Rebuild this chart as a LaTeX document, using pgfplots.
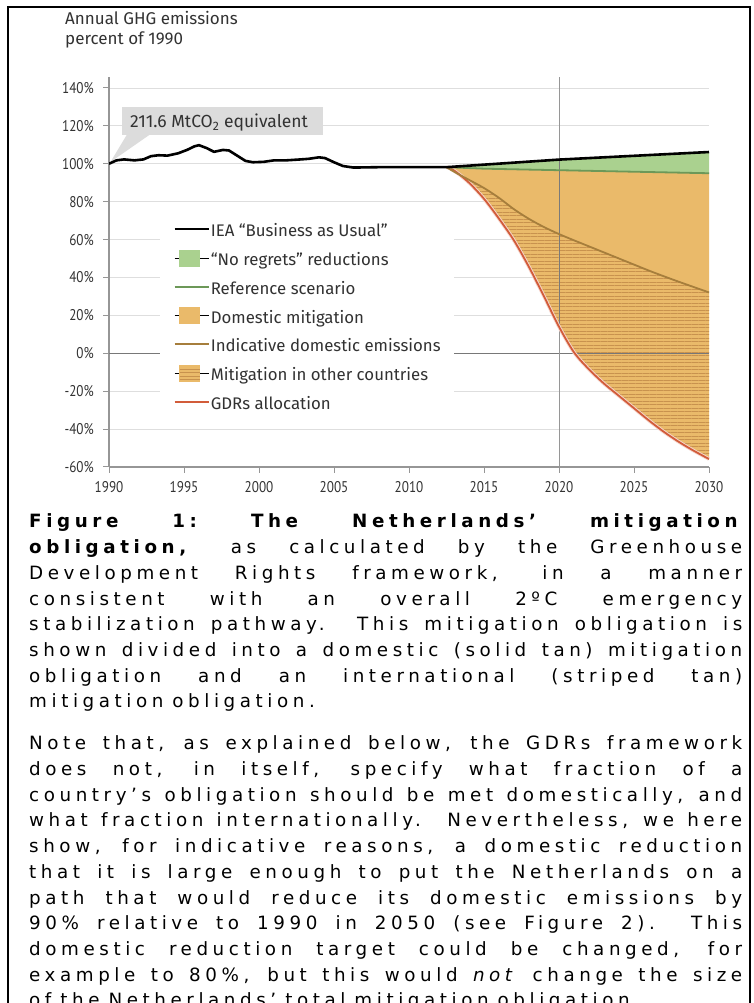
\documentclass[border=0pt]{standalone}
\usepackage{fontspec}
\usepackage{pgfplots}
\pgfplotsset{compat=1.18}
\usepgfplotslibrary{fillbetween}
\usetikzlibrary{patterns.meta}
\newfontfamily\tickfont{PT Sans}[FakeStretch=0.85]
\newfontfamily\chartfont{Fira Sans}
\newfontfamily\capfont{DejaVu Sans}[LetterSpace=25]
\definecolor{axgray}{RGB}{150,150,150}
\definecolor{gridgray}{RGB}{222,222,222}
\definecolor{zerogray}{RGB}{120,120,120}
\definecolor{nrgreen}{RGB}{170,209,143}
\definecolor{refgreen}{RGB}{108,152,88}
\definecolor{tanfill}{RGB}{234,186,106}
\definecolor{stripe}{RGB}{200,146,78}
\definecolor{indbrown}{RGB}{166,126,60}
\definecolor{gdrred}{RGB}{210,92,58}
\definecolor{callout}{RGB}{220,220,220}
\definecolor{labcol}{RGB}{50,50,50}
\newcommand{\capsp}{\spaceskip=5.5pt plus 40pt\relax\xspaceskip=5.5pt plus 40pt\relax}
\newcommand{\JL}[1]{\makebox[713pt][s]{\capsp #1}\\}
\newcommand{\RL}[1]{\makebox[713pt][l]{#1}}
\newcommand{\W}{\hspace*{9pt}}
\begin{document}
\begin{tikzpicture}[x=1pt,y=1pt]
\path (0,0) rectangle (754,1003);
\begin{scope}
\clip (0,0) rectangle (754,1003);
\draw[line width=2pt] (8,-5) -- (8,996) -- (750,996) -- (750,-5);
\node[anchor=base west, inner sep=0pt, text width=713pt, align=left,
      font=\capfont\fontsize{18.3}{25.7}\selectfont] at (29,475) {%
\JL{\textbf{Figure 1: The Netherlands’ mitigation}}
\JL{\textbf{obligation,} as calculated by the Greenhouse}
\JL{Development Rights framework, in a manner}
\JL{consistent with an overall 2ºC emergency}
\JL{stabilization pathway.\ \ This mitigation obligation is}
\JL{shown divided into a domestic (solid tan) mitigation}
\JL{obligation and an international (striped tan)}
\RL{mitigation\W obligation.}\\[16.3pt]
\JL{Note that, as explained below, the GDRs framework}
\JL{does not, in itself, specify what fraction of a}
\JL{country’s obligation should be met domestically, and}
\JL{what fraction internationally.\ \ Nevertheless, we here}
\JL{show, for indicative reasons, a domestic reduction}
\JL{that it is large enough to put the Netherlands on a}
\JL{path that would reduce its domestic emissions by}
\JL{90\% relative to 1990 in 2050 (see Figure 2).\ \ This}
\JL{domestic reduction target could be changed, for}
\JL{example to 80\%, but this would \textit{not} change the size}
\RL{of\W the\W Netherlands’\W total\W mitigation\W obligation.}};
\end{scope}
% y axis title
\node[anchor=base west, inner sep=0pt, align=left, text=labcol,
      font=\chartfont\fontsize{17}{20}\selectfont] at (65,958)
      {Annual GHG emissions\\percent of 1990};
% callout
\fill[callout] (122,868) rectangle (323,896);
\fill[callout] (127,868.5) -- (150,868.5) -- (110.5,841) -- cycle;
\node[anchor=base west, inner sep=0pt, text=labcol,
      font=\chartfont\fontsize{17.5}{18}\selectfont] at (130,875)
      {211.6 MtCO\textsubscript{2} equivalent};
\begin{axis}[
  at={(109pt,536pt)}, anchor=south west,
  scale only axis, width=600pt, height=390.4pt,
  xmin=1990, xmax=2030, ymin=-60, ymax=146,
  axis x line*=bottom, axis y line*=left,
  axis line style={draw=axgray, line width=1.6pt, -},
  xtick={1990,1995,...,2030},
  xticklabels={1990,1995,2000,2005,2010,2015,2020,2025,2030},
  ytick={-60,-40,...,140},
  yticklabels={-60\%,-40\%,-20\%,0\%,20\%,40\%,60\%,80\%,100\%,120\%,140\%},
  tick align=outside, major tick length=6pt,
  tick style={draw=axgray, line width=1pt},
  ymajorgrids, grid style={draw=gridgray, line width=0.9pt},
  ticklabel style={text=labcol, font=\tickfont\fontsize{15.5}{16}\selectfont},
  yticklabel style={anchor=east, inner sep=0pt, xshift=-9pt},
  xticklabel style={anchor=north, inner sep=0pt, yshift=-8pt},
  legend style={at={(0.085,0.653)}, anchor=north west,
    fill=white, draw=none, inner xsep=13pt, inner ysep=9pt,
    font=\chartfont\fontsize{16.8}{18}\selectfont, text=labcol,
    row sep=12.7pt, column sep=1pt,
    nodes={inner sep=0pt, text height=15.5pt, text depth=0.3pt}},
  legend cell align=left,
]
% reference lines
\addplot[forget plot, draw=zerogray, line width=1.3pt] coordinates {(1990,0) (2030,0)};
\addplot[forget plot, draw=axgray, line width=0.8pt] coordinates {(2020,-60) (2020,146)};
% data paths
\addplot[forget plot, draw=none, name path=baufut] coordinates {
(2012.5,98.2) (2020,102.2) (2030,106.2)};
\addplot[forget plot, draw=none, name path=ref] coordinates {
(2012.5,98.2) (2015,97.4) (2020,96.6) (2025,95.8) (2030,95.0)};
\addplot[forget plot, draw=none, name path=ind, smooth] coordinates {
(2012.5,98.2) (2013,95.8) (2014,91.5) (2015,87.2) (2016,82.0) (2017,76.0)
(2018,70.9) (2019,66.6) (2020,62.9) (2021,59.6) (2022,56.4) (2023,53.2)
(2024,50.0) (2025,46.8) (2026,43.6) (2027,40.6) (2028,37.7) (2029,34.9) (2030,32.1)};
\addplot[forget plot, draw=none, name path=gdr, smooth] coordinates {
(2012.5,98.2) (2013,96.5) (2014,90.0) (2015,81.5) (2016,71.0) (2017,59.5)
(2018,45.5) (2019,30.0) (2020,14.0) (2021,0.5) (2022,-8.5) (2023,-16.0)
(2024,-22.5) (2025,-29.0) (2026,-35.5) (2027,-41.5) (2028,-46.8) (2029,-51.5) (2030,-55.8)};
% fills
\addplot[forget plot, fill=tanfill, draw=none] fill between[of=ref and gdr];
\addplot[forget plot, draw=none, pattern={Lines[angle=0,distance=3.5pt,line width=0.8pt]},
  pattern color=stripe] fill between[of=ind and gdr];
\addplot[forget plot, fill=nrgreen, draw=none] fill between[of=baufut and ref];
\addplot[forget plot, draw=black, opacity=0.18, line width=0.8pt] coordinates {(2020,14) (2020,102)};
% lines
\addplot[forget plot, draw=gdrred!25, line width=3.6pt, smooth] coordinates {
(2012.5,98.2) (2013,96.5) (2014,90.0) (2015,81.5) (2016,71.0) (2017,59.5)
(2018,45.5) (2019,30.0) (2020,14.0) (2021,0.5) (2022,-8.5) (2023,-16.0)
(2024,-22.5) (2025,-29.0) (2026,-35.5) (2027,-41.5) (2028,-46.8) (2029,-51.5) (2030,-55.8)};
\addplot[forget plot, draw=gdrred, line width=1.8pt, smooth] coordinates {
(2012.5,98.2) (2013,96.5) (2014,90.0) (2015,81.5) (2016,71.0) (2017,59.5)
(2018,45.5) (2019,30.0) (2020,14.0) (2021,0.5) (2022,-8.5) (2023,-16.0)
(2024,-22.5) (2025,-29.0) (2026,-35.5) (2027,-41.5) (2028,-46.8) (2029,-51.5) (2030,-55.8)};
\addplot[forget plot, draw=indbrown, line width=1.8pt, smooth] coordinates {
(2012.5,98.2) (2013,95.8) (2014,91.5) (2015,87.2) (2016,82.0) (2017,76.0)
(2018,70.9) (2019,66.6) (2020,62.9) (2021,59.6) (2022,56.4) (2023,53.2)
(2024,50.0) (2025,46.8) (2026,43.6) (2027,40.6) (2028,37.7) (2029,34.9) (2030,32.1)};
\addplot[forget plot, draw=refgreen, line width=1.8pt] coordinates {
(2012.5,98.2) (2015,97.4) (2020,96.6) (2025,95.8) (2030,95.0)};
\addplot[forget plot, draw=black, line width=2.6pt, line join=round] coordinates {
(1990,100) (1990.5,101.8) (1991,102.3) (1991.7,101.8) (1992.3,102.3) (1992.8,104)
(1993.3,104.5) (1993.9,104.3) (1994.6,105.5) (1995.2,107.3) (1995.7,109.2) (1996,109.8)
(1996.5,108.3) (1997,106.3) (1997.6,107.3) (1998,107) (1998.6,104) (1999.1,101.5)
(1999.6,100.8) (2000.3,101) (2001,101.8) (2001.8,101.8) (2002.6,102.2) (2003.3,102.6)
(2004,103.4) (2004.4,103) (2005,100.8) (2005.6,98.8) (2006.3,98) (2008,98.2)
(2010,98.2) (2012.5,98.2) (2020,102.2) (2030,106.2)};
% legend
\addlegendimage{legend image code/.code={\draw[black, line width=2.6pt] (0pt,0pt) -- (34pt,0pt);}}
\addlegendentry{IEA “Business as Usual”}
\addlegendimage{legend image code/.code={\path (0pt,0pt) -- (34pt,0pt); \fill[nrgreen] (5pt,-8pt) rectangle (25pt,8pt);}}
\addlegendentry{“No regrets” reductions}
\addlegendimage{legend image code/.code={\draw[refgreen, line width=1.8pt] (0pt,0pt) -- (34pt,0pt);}}
\addlegendentry{Reference scenario}
\addlegendimage{legend image code/.code={\path (0pt,0pt) -- (34pt,0pt); \fill[tanfill] (5pt,-8pt) rectangle (25pt,8pt);}}
\addlegendentry{Domestic mitigation}
\addlegendimage{legend image code/.code={\draw[indbrown, line width=1.8pt] (0pt,0pt) -- (34pt,0pt);}}
\addlegendentry{Indicative domestic emissions}
\addlegendimage{legend image code/.code={\path (0pt,0pt) -- (34pt,0pt); \fill[tanfill] (5pt,-8pt) rectangle (25pt,8pt);
  \foreach \yy in {-6.25,-2.75,0.75,4.25} {\draw[stripe, line width=0.8pt] (5pt,\yy pt) -- (25pt,\yy pt);}}}
\addlegendentry{Mitigation in other countries}
\addlegendimage{legend image code/.code={\draw[gdrred, line width=1.8pt] (0pt,0pt) -- (34pt,0pt);}}
\addlegendentry{GDRs allocation}
\end{axis}
\end{tikzpicture}
\end{document}
